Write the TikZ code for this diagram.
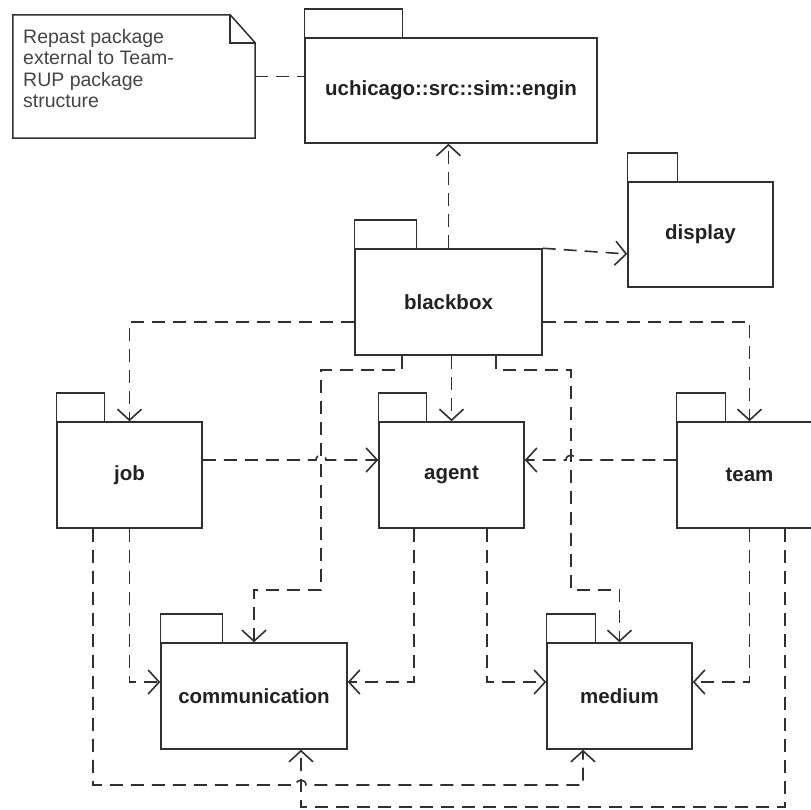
\documentclass[tikz,border=0pt]{standalone}
\usepackage{fontspec}
\setmainfont{Liberation Sans}
\usetikzlibrary{arrows.meta,calc}
\definecolor{ink}{HTML}{303030}
\definecolor{labeltext}{HTML}{222222}
\definecolor{notetext}{HTML}{454545}
% package tab drawn on top of a package box
\newcommand\pkgtab[2]{\draw[outline] (#1.north west) rectangle ++(#2,-28.5);}
\begin{document}
\begin{tikzpicture}[x=1pt,y=-1pt,
  outline/.style={draw=ink, line width=1.5pt},
  pkg/.style={outline, minimum height=106pt, inner sep=0pt,
    font=\fontsize{20.5}{24}\selectfont\bfseries, text=labeltext},
  link/.style={draw=ink, line width=1.6pt, dash pattern=on 13pt off 8pt},
  dep/.style={link, -{Straight Barb[length=11pt,width=24pt]}},
]
\path[use as bounding box, clip] (0,0) rectangle (811,809);

% note with folded corner
\node[minimum width=242pt, minimum height=123pt, inner sep=0pt] (note) at (134,76.5) {};
\draw[outline] (note.north west) -- ([xshift=-25pt]note.north east)
  -- ([yshift=-28pt]note.north east) -- (note.south east)
  -- (note.south west) -- cycle;
\draw[outline] ([xshift=-25pt]note.north east) -- ++(0,28) -- ([yshift=-28pt]note.north east);
\node[anchor=base west, inner sep=0pt, text=notetext] (notetxt) at (23,43)
  {\parbox[t]{220pt}{\fontsize{19.5}{21.5}\selectfont\raggedright
   Repast package\\external to Team-\\RUP package\\structure}};

% packages
\node[pkg, minimum width=292pt, minimum height=105pt] (uchi) at (451,90.5) {uchicago::src::sim::engin};
\node[pkg, minimum width=145pt, minimum height=105pt] (display) at (700.5,234.5) {display};
\node[pkg, minimum width=187pt] (bb) at (448.5,302) {blackbox};
\node[pkg, minimum width=145pt] (job) at (129.5,475) {job};
\node[pkg, minimum width=145pt] (agent) at (451.5,475) {agent};
\node[pkg, minimum width=145pt] (team) at (749.5,475) {team};
\node[pkg, minimum width=186pt] (comm) at (254,696) {communication};
\node[pkg, minimum width=145pt] (medium) at (619.5,696) {medium};

\pkgtab{uchi}{98}
\pkgtab{display}{50}
\pkgtab{bb}{62}
\pkgtab{job}{48}
\pkgtab{agent}{48}
\pkgtab{team}{49}
\pkgtab{comm}{62}
\pkgtab{medium}{49}

% note anchor line
\draw[link] (note.east) -- (note.east -| uchi.west);

% dependencies of blackbox
\draw[dep] (bb.north) -- (bb.north |- uchi.south);
\draw[dep] (bb.north east) -- ($(display.west)+(0,19.5)$);
\draw[dep] ([yshift=-20pt]bb.west) -| (job.north);
\draw[dep] ([yshift=-20pt]bb.east) -| (team.north);
\draw[dep] (agent.north |- bb.south) -- (agent.north);
\draw[dep] ([xshift=-46.5pt]bb.south) |- (321,370) -- (321,590) -| (comm.north);
\draw[dep] ([xshift=47.5pt]bb.south) |- (571,370) -- (571,590) -| (medium.north);

% dependencies on agent, hopping over crossing lines
\draw[dep] ([yshift=15pt]job.east) -- (316,460)
  .. controls (316,453.5) and (326,453.5) .. (326,460) -- ([yshift=15pt]agent.west);
\draw[dep] ([yshift=15pt]team.west) -- (576,460)
  .. controls (576,453.5) and (566,453.5) .. (566,460) -- ([yshift=15pt]agent.east);

% dependencies on communication and medium
\draw[dep] (job.south) |- ([yshift=14pt]comm.west);
\draw[dep] ([xshift=-37.5pt]agent.south) |- ([yshift=14pt]comm.east);
\draw[dep] ([xshift=35.5pt]agent.south) |- ([yshift=14pt]medium.west);
\draw[dep] (team.south) |- ([yshift=14pt]medium.east);
\draw[dep] ([xshift=-36.5pt]job.south) |- (296,785)
  .. controls (296,778.5) and (306,778.5) .. (306,785) -| ([xshift=-36.5pt]medium.south);
\draw[dep] ([xshift=35.5pt]team.south) |- (301,807) -- ([xshift=47pt]comm.south);
\end{tikzpicture}
\end{document}
